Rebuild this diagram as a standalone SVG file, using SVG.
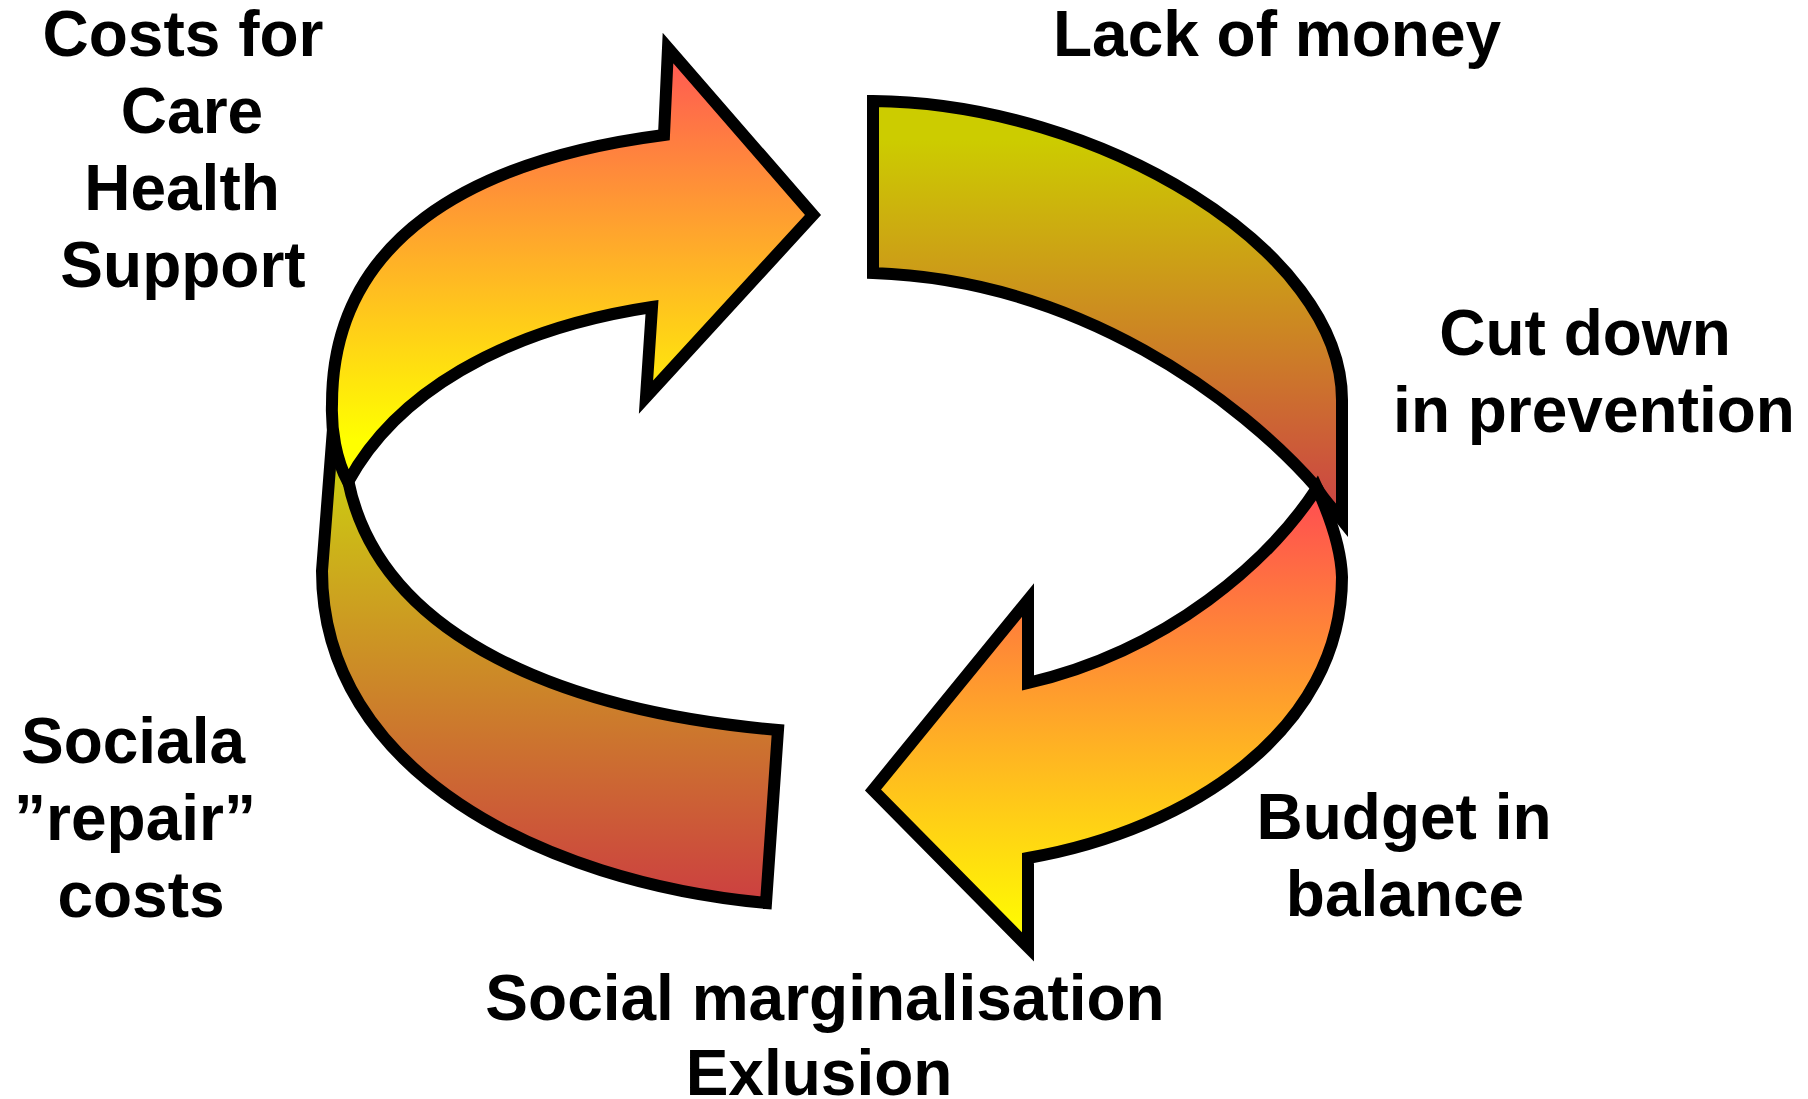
<svg xmlns="http://www.w3.org/2000/svg" width="1808" height="1099" viewBox="0 0 1808 1099">
<defs>
<style>
.arr{stroke:#000;stroke-width:12;stroke-linejoin:miter;stroke-miterlimit:10}
.lbl{font-family:"Liberation Sans",Arial,Helvetica,sans-serif;font-weight:bold;font-size:64px;fill:#000;text-anchor:middle}
</style>
<linearGradient id="gHot1" gradientUnits="userSpaceOnUse" x1="0" y1="48" x2="0" y2="440">
<stop offset="0" stop-color="#FF5555"/>
<stop offset="1" stop-color="#FFFF00"/>
</linearGradient>
<linearGradient id="gHot3" gradientUnits="userSpaceOnUse" x1="0" y1="500" x2="0" y2="940">
<stop offset="0" stop-color="#FF5050"/>
<stop offset="1" stop-color="#FFFF00"/>
</linearGradient>
<linearGradient id="gDark2" gradientUnits="userSpaceOnUse" x1="0" y1="140" x2="0" y2="510">
<stop offset="0" stop-color="#CCCC00"/>
<stop offset="1" stop-color="#CC4444"/>
</linearGradient>
<linearGradient id="gDark4" gradientUnits="userSpaceOnUse" x1="0" y1="470" x2="0" y2="900">
<stop offset="0" stop-color="#CCCC11"/>
<stop offset="1" stop-color="#CC4040"/>
</linearGradient>
</defs>
<rect width="1808" height="1099" fill="#fff"/>
<g id="connectors">
<g id="band-top-right">
<path class="arr" fill="url(#gDark2)" d="M873,101 C1100,103 1342,250 1342,400 L1342,520 C1334,510 1322,498 1317,488 C1240,400 1080,280 873,273 Z"/>
</g>
<g id="band-bottom-left">
<path class="arr" fill="url(#gDark4)" d="M778,730 C570,712 380,640 348,480 C343,455 338,420 336,390 L322,571 C322,770 540,882 766,903 Z"/>
</g>
<g id="arrow-top-left">
<path class="arr" fill="url(#gHot1)" d="M652,307 L646,397 L813,215 L668,48 L664,135 C470,160 332,240 332,404 C331,430 336,460 348,482 C395,395 500,330 652,307 Z"/>
</g>
<g id="arrow-bottom-right">
<path class="arr" fill="url(#gHot3)" d="M1028,683 L1028,600 L873,790 L1028,947 L1028,858 C1190,830 1342,730 1342,577 C1341,545 1327,510 1317,488 C1270,560 1170,650 1028,683 Z"/>
</g>
</g>
<g id="node-costs">
<text class="lbl" x="183" y="56">Costs for</text>
<text class="lbl" x="192" y="133">Care</text>
<text class="lbl" x="182" y="210">Health</text>
<text class="lbl" x="183" y="287">Support</text>
</g>
<g id="node-lack">
<text class="lbl" x="1277" y="56">Lack of money</text>
</g>
<g id="node-cut">
<text class="lbl" x="1585" y="355">Cut down</text>
<text class="lbl" x="1594" y="432">in prevention</text>
</g>
<g id="node-budget">
<text class="lbl" x="1404" y="839">Budget in</text>
<text class="lbl" x="1405" y="916">balance</text>
</g>
<g id="node-social">
<text class="lbl" x="825" y="1020">Social marginalisation</text>
<text class="lbl" x="819" y="1095">Exlusion</text>
</g>
<g id="node-repair">
<text class="lbl" x="133" y="763">Sociala</text>
<text class="lbl" x="135" y="840">”repair”</text>
<text class="lbl" x="141" y="917">costs</text>
</g>
</svg>
